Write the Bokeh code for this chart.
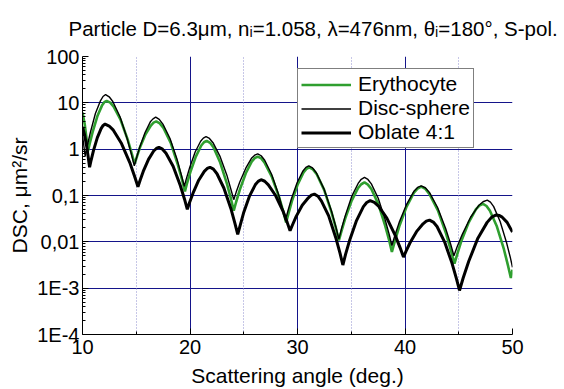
from bokeh.plotting import figure
from bokeh.models import (Range1d, FixedTicker, CustomJSTickFormatter, Grid,
                          Legend, LegendItem)
from bokeh.embed import file_html
from bokeh.resources import INLINE

# ---------------- data ----------------
angle_ery = [10.00, 10.20, 10.38, 10.50, 10.68, 10.94, 11.38, 11.81, 12.03, 12.25, 12.58, 12.90, 13.55, 14.20, 14.59, 14.85,
             15.05, 15.35, 15.86, 16.36, 16.61, 16.86, 17.19, 17.53, 18.20, 18.86, 19.26, 19.53,
             19.73, 20.04, 20.54, 21.05, 21.30, 21.55, 21.87, 22.18, 22.81, 23.44, 23.82, 24.07,
             24.29, 24.63, 25.19, 25.74, 26.02, 26.30, 26.63, 26.96, 27.62, 28.28, 28.68, 28.94,
             29.16, 29.48, 30.02, 30.56, 30.83, 31.10, 31.44, 31.79, 32.48, 33.16, 33.58, 33.85,
             34.09, 34.45, 35.04, 35.64, 35.93, 36.23, 36.55, 36.87, 37.51, 38.14, 38.53, 38.78,
             39.05, 39.46, 40.15, 40.83, 41.17, 41.51, 41.90, 42.28, 43.06, 43.83, 44.29, 44.60,
             44.87, 45.26, 45.93, 46.59, 46.92, 47.25, 47.58, 47.90, 48.55, 49.20, 49.59, 49.85, 50.00]
dsc_ery = [6.17, 3.55, 1.66, 0.891, 1.35, 2.34, 5.13, 8.71, 10.3, 11.0, 10.1, 8.32, 4.27, 1.62, 0.794, 0.479,
           0.676, 1.10, 2.09, 3.24, 3.74, 3.98, 3.60, 2.88, 1.38, 0.468, 0.219, 0.123,
           0.186, 0.324, 0.692, 1.20, 1.41, 1.51, 1.37, 1.10, 0.513, 0.178, 0.0832, 0.0468,
           0.0724, 0.132, 0.302, 0.537, 0.640, 0.692, 0.630, 0.501, 0.251, 0.0933, 0.0447, 0.0263,
           0.0407, 0.0759, 0.174, 0.316, 0.376, 0.407, 0.366, 0.288, 0.132, 0.0437, 0.0195, 0.0107,
           0.0170, 0.0324, 0.0776, 0.145, 0.175, 0.191, 0.172, 0.138, 0.0661, 0.0229, 0.0107, 0.00603,
           0.0102, 0.0214, 0.0575, 0.115, 0.141, 0.155, 0.139, 0.107, 0.0479, 0.0148, 0.00631, 0.00339,
           0.00550, 0.0107, 0.0263, 0.0501, 0.0605, 0.0661, 0.0593, 0.0468, 0.0214, 0.00692, 0.00302, 0.00166, 0.00251]

angle_disc = [10.00, 10.12, 10.25, 10.44, 10.73, 11.20, 11.68, 11.91, 12.15, 12.48, 12.82, 13.49, 14.15, 14.55, 14.82,
              15.02, 15.32, 15.82, 16.31, 16.56, 16.81, 17.14, 17.48, 18.14, 18.81, 19.20, 19.47,
              19.67, 19.98, 20.48, 20.99, 21.24, 21.49, 21.81, 22.14, 22.78, 23.43, 23.81, 24.07,
              24.29, 24.63, 25.19, 25.74, 26.02, 26.30, 26.62, 26.95, 27.59, 28.24, 28.62, 28.88,
              29.10, 29.42, 29.97, 30.51, 30.78, 31.05, 31.40, 31.75, 32.45, 33.15, 33.57, 33.85,
              34.09, 34.45, 35.04, 35.64, 35.93, 36.23, 36.55, 36.87, 37.51, 38.14, 38.53, 38.78,
              39.05, 39.46, 40.15, 40.83, 41.17, 41.51, 41.89, 42.27, 43.03, 43.79, 44.25, 44.55,
              44.86, 45.33, 46.10, 46.88, 47.26, 47.65, 47.95, 48.25, 48.85, 49.45, 49.81, 50.00]
dsc_disc = [2.0, 1.20, 0.708, 1.17, 2.29, 5.89, 11.2, 13.7, 15.1, 13.5, 10.7, 5.01, 1.70, 0.776, 0.437,
            0.646, 1.10, 2.29, 3.89, 4.51, 4.90, 4.39, 3.47, 1.70, 0.589, 0.275, 0.158,
            0.234, 0.407, 0.871, 1.48, 1.73, 1.86, 1.70, 1.38, 0.708, 0.275, 0.135, 0.0813,
            0.117, 0.195, 0.389, 0.646, 0.743, 0.794, 0.721, 0.575, 0.288, 0.105, 0.0501, 0.0295,
            0.0457, 0.0832, 0.191, 0.339, 0.404, 0.437, 0.393, 0.309, 0.141, 0.0468, 0.0209, 0.0115,
            0.0191, 0.0372, 0.0955, 0.182, 0.224, 0.245, 0.222, 0.178, 0.0871, 0.0309, 0.0145, 0.00832,
            0.0135, 0.0263, 0.0646, 0.123, 0.149, 0.162, 0.147, 0.117, 0.0550, 0.0191, 0.00891, 0.00501,
            0.00794, 0.0145, 0.0339, 0.0617, 0.0733, 0.0794, 0.0718, 0.0575, 0.0275, 0.00955, 0.00447, 0.00282]

angle_obl = [10.00, 10.20, 10.40, 10.55, 10.66, 10.80, 11.02, 11.38, 11.74, 11.92, 12.10, 12.48, 12.87, 13.63, 14.40, 14.85, 15.16,
             15.36, 15.65, 16.14, 16.62, 16.87, 17.11, 17.44, 17.77, 18.43, 19.09, 19.49, 19.75,
             19.96, 20.28, 20.81, 21.33, 21.60, 21.86, 22.18, 22.51, 23.15, 23.80, 24.18, 24.44,
             24.66, 24.98, 25.52, 26.07, 26.34, 26.61, 26.95, 27.29, 27.96, 28.64, 29.04, 29.31,
             29.54, 29.88, 30.44, 31.01, 31.29, 31.57, 31.90, 32.23, 32.90, 33.56, 33.96, 34.22,
             34.47, 34.86, 35.49, 36.13, 36.44, 36.76, 37.15, 37.54, 38.31, 39.09, 39.55, 39.86,
             40.10, 40.47, 41.07, 41.68, 41.98, 42.28, 42.63, 42.98, 43.68, 44.37, 44.79, 45.07,
             45.41, 45.93, 46.78, 47.64, 48.06, 48.49, 48.75, 49.00, 49.50, 50.00]
dsc_obl = [3.02, 2.0, 1.12, 0.631, 0.407, 0.575, 0.933, 1.78, 2.82, 3.26, 3.47, 3.16, 2.57, 1.32, 0.513, 0.257, 0.155,
           0.214, 0.331, 0.603, 0.912, 1.035, 1.10, 1.00, 0.813, 0.427, 0.166, 0.0832, 0.0501,
           0.0708, 0.112, 0.214, 0.331, 0.383, 0.407, 0.370, 0.295, 0.145, 0.0525, 0.0251, 0.0145,
           0.0224, 0.0417, 0.0955, 0.170, 0.202, 0.219, 0.203, 0.170, 0.100, 0.0468, 0.0263, 0.0174,
           0.0234, 0.0355, 0.0617, 0.0891, 0.1016, 0.107, 0.0966, 0.0759, 0.0363, 0.0123, 0.00562, 0.00316,
           0.00537, 0.0110, 0.0288, 0.0575, 0.0707, 0.0776, 0.0714, 0.0589, 0.0324, 0.0138, 0.00741, 0.00468,
           0.00631, 0.00955, 0.0166, 0.0245, 0.0280, 0.0295, 0.0267, 0.0214, 0.0100, 0.00347, 0.00158, 0.000891,
           0.00166, 0.00380, 0.0120, 0.0263, 0.0340, 0.0380, 0.0372, 0.0347, 0.0263, 0.0162]

series_names = ["Erythocyte", "Disc-sphere", "Oblate 4:1"]

x_ticks = [10, 20, 30, 40, 50]
x_minor_ticks = [15, 25, 35, 45]
x_grid_major = [20, 30, 40]
y_ticks = [1e-4, 1e-3, 1e-2, 1e-1, 1, 10, 100]
y_tick_labels = ["1E-4", "1E-3", "0,01", "0,1", "1", "10", "100"]
y_grid_major = [1e-3, 1e-2, 1e-1, 1, 10]

title_text = "Particle D=6.3\u03bcm, n\u1d62=1.058, \u03bb=476nm, \u03b8\u1d62=180\u00b0, S-pol."
x_label = "Scattering angle (deg.)"
y_label = "DSC, \u03bcm\u00b2/sr"

# ---------------- figure ----------------
FONT = "Liberation Sans"
GRID = "#14148a"

p = figure(width=564, height=389, x_range=Range1d(10, 50), y_range=Range1d(1e-4, 100),
           y_axis_type="log", output_backend="svg", toolbar_location=None,
           min_border_left=82, min_border_right=52, min_border_top=56, min_border_bottom=55,
           title=title_text)
p.outline_line_color = None
p.background_fill_color = "white"
p.border_fill_color = "white"

p.title.text_font = FONT
p.title.text_font_size = "20.5px"
p.title.text_font_style = "normal"
p.title.text_color = "black"
p.title.align = "left"
p.title.vertical_align = "top"
p.title.offset = -14
p.title.standoff = 30

# axes
p.xaxis.ticker = FixedTicker(ticks=x_ticks, minor_ticks=x_minor_ticks)
y_minor = [m * 10.0 ** e for e in range(-4, 2) for m in range(2, 10)]
p.yaxis.ticker = FixedTicker(ticks=y_ticks, minor_ticks=y_minor)
p.yaxis.formatter = CustomJSTickFormatter(args=dict(vals=y_ticks, labs=y_tick_labels), code="""
    for (let i = 0; i < vals.length; i++) {
        if (Math.abs(Math.log10(tick) - Math.log10(vals[i])) < 1e-6) { return labs[i]; }
    }
    return "";
""")
for ax in (p.xaxis, p.yaxis):
    ax.axis_line_color = "black"
    ax.axis_line_width = 1
    ax.major_tick_in = 6
    ax.major_tick_out = 0
    ax.minor_tick_in = 3
    ax.minor_tick_out = 0
    ax.major_tick_line_color = "black"
    ax.minor_tick_line_color = "black"
    ax.major_label_text_font = FONT
    ax.major_label_text_font_size = "20px"
    ax.major_label_text_color = "black"
    ax.axis_label_text_font = FONT
    ax.axis_label_text_font_size = "21px"
    ax.axis_label_text_font_style = "normal"
    ax.axis_label_text_color = "black"
p.xaxis.axis_label = x_label
p.yaxis.axis_label = y_label
p.xaxis.major_label_standoff = 5
p.xaxis.axis_label_standoff = 7
p.yaxis.major_label_standoff = 3
p.yaxis.axis_label_standoff = 3

# grids
p.xgrid.ticker = FixedTicker(ticks=x_grid_major)
p.xgrid.grid_line_color = GRID
p.xgrid.grid_line_width = 1
p.ygrid.ticker = FixedTicker(ticks=y_grid_major)
p.ygrid.grid_line_color = GRID
p.ygrid.grid_line_width = 1
minor_grid = Grid(dimension=0, ticker=FixedTicker(ticks=x_minor_ticks),
                  grid_line_color="#8f8fcf", grid_line_width=1, grid_line_dash="1 2")
p.add_layout(minor_grid)

# curves
r_ery = p.line(angle_ery, dsc_ery, line_color="#2f9f2f", line_width=2.6)
r_disc = p.line(angle_disc, dsc_disc, line_color="black", line_width=1.4)
r_obl = p.line(angle_obl, dsc_obl, line_color="black", line_width=3)

legend = Legend(items=[LegendItem(label=series_names[0], renderers=[r_ery]),
                       LegendItem(label=series_names[1], renderers=[r_disc]),
                       LegendItem(label=series_names[2], renderers=[r_obl])],
                location=(215, 186), orientation="vertical",
                label_text_font=FONT, label_text_font_size="21px", label_text_color="black",
                glyph_width=50, glyph_height=23, label_height=23, label_standoff=7,
                padding=3, spacing=0, margin=0,
                border_line_color="black", border_line_width=1,
                background_fill_color="white", background_fill_alpha=1.0)
p.add_layout(legend)

open("out.html", "w").write(file_html(p, INLINE))
